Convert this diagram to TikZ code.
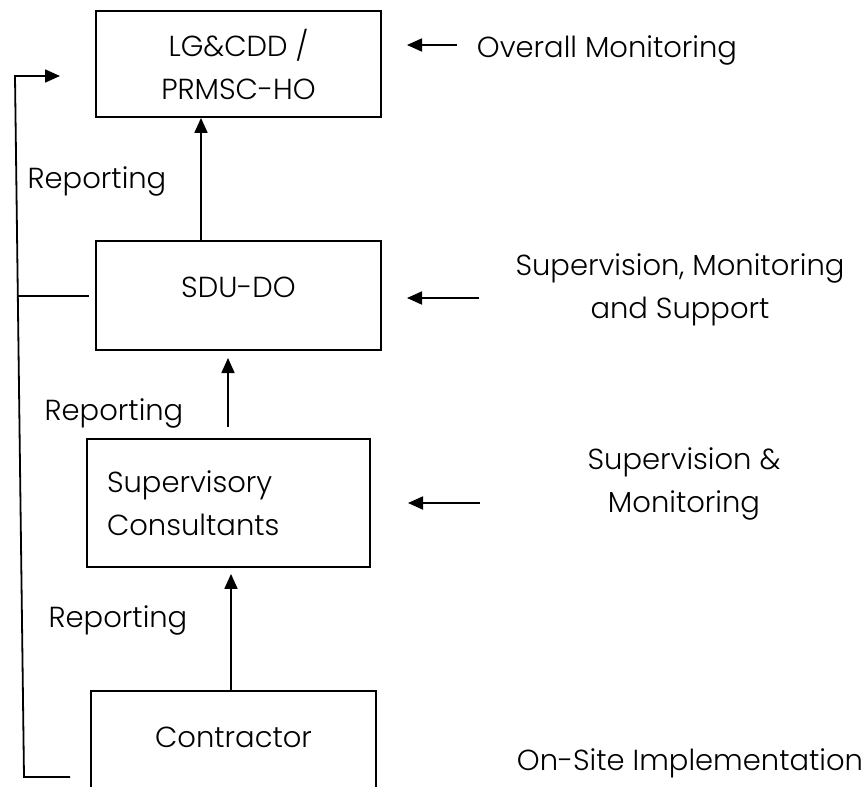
\documentclass[tikz,border=0pt]{standalone}
\usepackage{fontspec}
\setmainfont{Poppins}[UprightFont=* Light]
\usetikzlibrary{arrows.meta}

\tikzset{
	unitbox/.style={draw, line width=0.9pt, minimum width=142.5pt, align=center, inner sep=0pt},
	arr/.style={-{Triangle[length=7.5pt, width=6.5pt]}, line width=0.9pt},
	plain/.style={line width=0.9pt},
	txt/.style={font=\fontsize{14.5}{21.5}\selectfont, align=center, inner sep=0pt}
}

\begin{document}
\begin{tikzpicture}[x=0.5pt, y=-0.5pt, every node/.style={font=\fontsize{14.5}{21.5}\selectfont}]
			\clip (0,0) rectangle (864,787);

			% Draw the boxes
			\node[unitbox, minimum height=53pt] (lg) at (238.5,64) {LG\&CDD /\\PRMSC-HO};
			\node[unitbox, minimum height=54.5pt, text depth=8pt] (sdu) at (238.5,295.5) {SDU-DO};
			\node[unitbox, minimum height=64pt, minimum width=0pt, inner xsep=10pt, text width=121.5pt, align=left] (sc) at (228.5,503) {Supervisory\\Consultants};
			\node[unitbox, minimum height=70pt, text depth=24pt] (con) at (233.5,761) {Contractor};

			% Draw the reporting arrows
			\draw[arr] (sdu.north -| 201,0) -- (lg.south -| 201,0);
			\coordinate (r2a) at (228,427);
			\coordinate (r2b) at (228,358);
			\draw[arr] (r2a) -- (r2b);
			\draw[arr] (con.north -| 231,0) -- ([yshift=-3pt]sc.south -| 231,0);

			\node[txt] (rep1) at (97,181) {Reporting};
			\node[txt] (rep2) at (114,413) {Reporting};
			\node[txt] (rep3) at (118,620) {Reporting};

			% Draw the feedback line on the left
			\coordinate (fb0) at (70,777);
			\coordinate (fb1) at (24,777);
			\coordinate (fb2) at (15,76);
			\coordinate (fb3) at (60,76);
			\draw[arr] (fb0) -- (fb1) -- (fb2) -- (fb3);
			\coordinate (fm) at (17,296);
			\draw[plain] (fm) -- ([xshift=-3pt]sdu.west |- fm);

			% Draw the roles on the right
			\node[txt] (om) at (607,50) {Overall Monitoring};
			\node[txt] (sms) at (680,290) {Supervision, Monitoring\\and Support};
			\node[txt] (sm) at (684,484) {Supervision \&\\Monitoring};
			\node[txt] (osi) at (690,763) {On-Site Implementation};

			\coordinate (om1) at (457,45);
			\coordinate (om2) at (407,45);
			\draw[arr] (om1) -- (om2);
			\coordinate (sms1) at (479,298);
			\coordinate (sms2) at (407,298);
			\draw[arr] (sms1) -- (sms2);
			\coordinate (sm1) at (480,503);
			\coordinate (sm2) at (408,503);
			\draw[arr] (sm1) -- (sm2);

		\end{tikzpicture}
\end{document}
